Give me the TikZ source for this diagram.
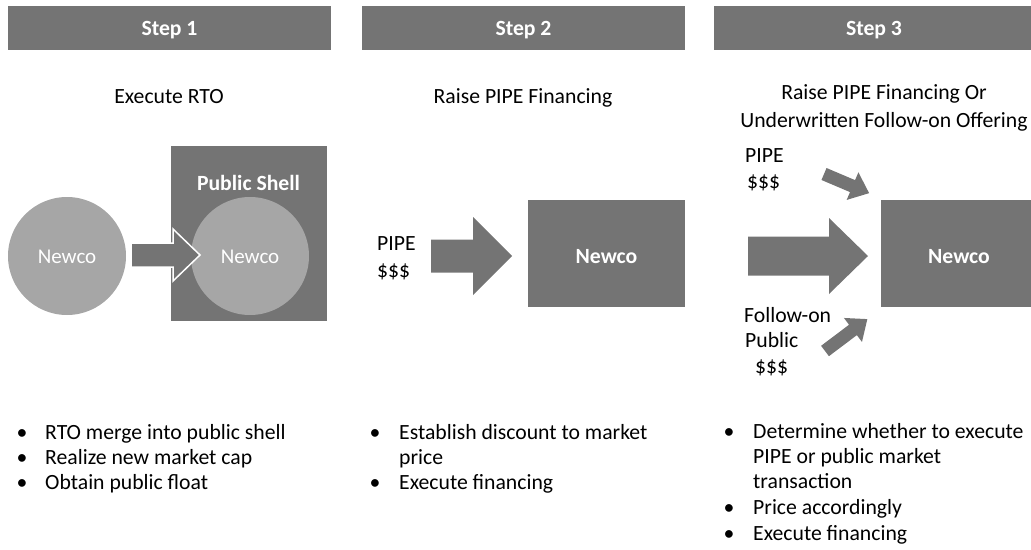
\documentclass[tikz,border=0pt]{standalone}
\usepackage{fontspec}
\setmainfont{Carlito}
\definecolor{boxgray}{HTML}{747474}
\definecolor{circgray}{HTML}{A6A6A6}
\newcommand\blockarrow[7]{%
  \begin{scope}[shift={(#1)},rotate=#2]
    \path[#7] (0,-#4) -- ({#3-#6},-#4) -- ({#3-#6},-#5) -- (#3,0) -- ({#3-#6},#5) -- ({#3-#6},#4) -- (0,#4) -- cycle;
  \end{scope}}
\begin{document}
\begin{tikzpicture}[x=1pt,y=-1pt,
  fnt/.style={font=\fontsize{21.7}{26}\selectfont},
  bar/.style={fill=boxgray,text=white,inner sep=0pt,font=\fontsize{21.7}{26}\selectfont\bfseries,
    minimum height=44,text height=14,text depth=0},
  sqbox/.style={fill=boxgray,text=white,inner sep=0pt,font=\fontsize{21.7}{26}\selectfont\bfseries,
    minimum width=157,minimum height=107,text height=19,text depth=0},
  circ/.style={circle,fill=circgray,text=white,inner sep=0pt,
    font=\fontsize{21}{26}\selectfont,minimum size=118,text height=14,text depth=0},
  lbl/.style={inner sep=0pt,anchor=base,fnt},
  lblw/.style={inner sep=0pt,anchor=base west,fnt},
  arr/.style={fill=boxgray},
  arrw/.style={fill=boxgray,draw=white,line width=1.5,line join=miter}]
\useasboundingbox (0,0) rectangle (1031,549);
\clip (0,0) rectangle (1031,549);
% header bars
\node[bar,minimum width=323] (h1) at (169.5,28) {Step 1};
\node[bar,minimum width=323] (h2) at (523.5,28) {Step 2};
\node[bar,minimum width=320] (h3) at (874,28) {Step 3};
% titles
\node[lbl] (t1) at (169,103) {Execute RTO};
\node[lbl] (t2) at (523,103) {Raise PIPE Financing};
\node[lbl] (t3a) at (884,99) {Raise PIPE Financing Or};
\node[lbl] (t3b) at (884,127) {Underwritten Follow-on Offering};
% step 1
\node[fill=boxgray,minimum width=156,minimum height=175,inner sep=0pt] (shell) at (249,233.5) {};
\node[lbl,text=white,font=\fontsize{21.7}{26}\selectfont\bfseries] (shelllbl) at (248.5,190) {Public Shell};
\node[circ] (c1) at (67,256) {Newco};
\node[circ] (c2) at (250,256) {Newco};
\blockarrow{131,255}{0}{69}{12}{26}{27}{arrw}
% step 2
\node[sqbox] (n2) at (606.5,253.5) {Newco};
\node[lblw] (p2a) at (377,250) {PIPE};
\node[lblw] (p2b) at (377,277) {\$\$\$};
\blockarrow{431,256}{0}{81}{16.5}{39}{39}{arr}
% step 3
\node[sqbox,minimum width=156] (n3) at (959,253.5) {Newco};
\node[lblw] (p3a) at (745,162) {PIPE};
\node[lblw] (p3b) at (747,188) {\$\$\$};
\node[lblw] (f3a) at (744,322) {Follow-on};
\node[lblw] (f3b) at (745,347) {Public};
\node[lblw] (f3c) at (755,373) {\$\$\$};
\blockarrow{748,256}{0}{120}{19.5}{38}{39}{arr}
\blockarrow{824,174}{-23}{49}{6.5}{15}{18}{arr}
\blockarrow{825,351}{37}{53}{6.5}{15}{18}{arr}
% bullets column 1
\node[lbl] (b1a) at (22,439) {•};
\node[lblw] (l1a) at (45,439) {RTO merge into public shell};
\node[lbl] (b1b) at (22,464) {•};
\node[lblw] (l1b) at (45,464) {Realize new market cap};
\node[lbl] (b1c) at (22,489) {•};
\node[lblw] (l1c) at (45,489) {Obtain public float};
% bullets column 2
\node[lbl] (b2a) at (375,439) {•};
\node[lblw] (l2a) at (399,439) {Establish discount to market};
\node[lblw] (l2b) at (399,464) {price};
\node[lbl] (b2c) at (375,489) {•};
\node[lblw] (l2c) at (399,489) {Execute financing};
% bullets column 3
\node[lbl] (b3a) at (729,438) {•};
\node[lblw] (l3a) at (753,438) {Determine whether to execute};
\node[lblw] (l3b) at (753,463) {PIPE or public market};
\node[lblw] (l3c) at (753,488) {transaction};
\node[lbl] (b3d) at (729,514) {•};
\node[lblw] (l3d) at (753,514) {Price accordingly};
\node[lbl] (b3e) at (729,540) {•};
\node[lblw] (l3e) at (753,540) {Execute financing};
\end{tikzpicture}
\end{document}
